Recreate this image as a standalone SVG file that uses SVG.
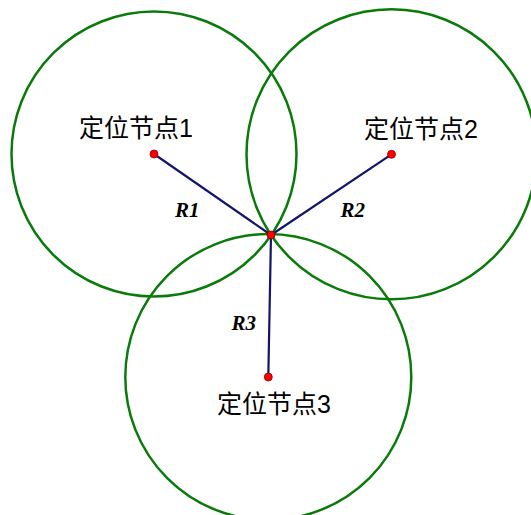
<svg xmlns="http://www.w3.org/2000/svg" width="531" height="515" viewBox="0 0 531 515">
<style>
.circ{fill:none;stroke:#0a7a0a;stroke-width:2.5}
.conn{stroke:#14146e;stroke-width:2.2;fill:none}
.dot{fill:#ff0000;stroke:#8b0000;stroke-width:0.8}
.lbl{font-family:"Liberation Sans","Noto Sans CJK SC",sans-serif;font-size:25px;fill:#000}
.r{font-family:"Liberation Serif",serif;font-size:21px;font-weight:bold;font-style:italic;fill:#000}
</style>
<rect width="531" height="515" fill="#fff"/>
<g id="circles">
<circle class="circ" cx="154" cy="154" r="142.5"/>
<circle class="circ" cx="391.5" cy="154.3" r="145"/>
<circle class="circ" cx="268.3" cy="377" r="143"/>
</g>
<g id="connectors">
<line class="conn" x1="154" y1="154" x2="271" y2="235"/>
<line class="conn" x1="391.5" y1="154.3" x2="271" y2="235"/>
<line class="conn" x1="268.3" y1="377" x2="271" y2="235"/>
<text class="r" x="175" y="216.5">R1</text>
<text class="r" x="340.5" y="217">R2</text>
<text class="r" x="231.5" y="330">R3</text>
</g>
<g id="node1">
<circle class="dot" cx="154" cy="154" r="4"/>
<text class="lbl" x="79" y="137">定位节点1</text>
</g>
<g id="node2">
<circle class="dot" cx="391.5" cy="154.3" r="4"/>
<text class="lbl" x="364" y="137.5">定位节点2</text>
</g>
<g id="node3">
<circle class="dot" cx="268.3" cy="377" r="4"/>
<text class="lbl" x="217" y="413">定位节点3</text>
</g>
<g id="center">
<circle class="dot" cx="271" cy="235" r="4"/>
</g>
</svg>
